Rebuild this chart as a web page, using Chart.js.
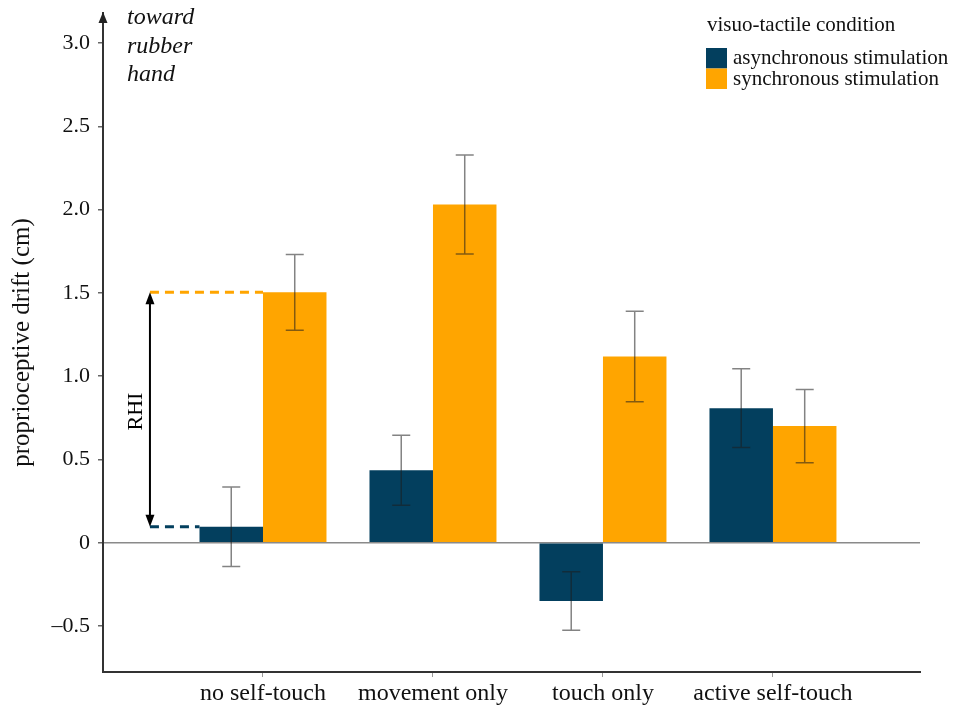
<!DOCTYPE html>
<html>
<head>
<meta charset="utf-8">
<script src="https://cdn.jsdelivr.net/npm/chart.js@4/dist/chart.umd.min.js"></script>
<style>
  html, body { margin: 0; padding: 0; background: #fff; }
  #wrap { width: 953px; height: 709px; }
</style>
</head>
<body>
<div id="wrap"><canvas id="driftChart" width="953" height="709"></canvas></div>
<script>
// -----------------------------
// Data
// -----------------------------
const categories = ["no self-touch", "movement only", "touch only", "active self-touch"];
const seriesNames = ["asynchronous stimulation", "synchronous stimulation"];
const asyncMeans = [0.096, 0.435, -0.35, 0.808];
const asyncErr = [0.238, 0.21, 0.176, 0.236];
const syncMeans = [1.503, 2.03, 1.118, 0.70];
const syncErr = [0.227, 0.297, 0.271, 0.22];
const yTicks = [-0.5, 0, 0.5, 1.0, 1.5, 2.0, 2.5, 3.0];

const DARK = "#033f5e";
const ORANGE = "#ffa500";
const SERIF = "'Liberation Serif', 'Times New Roman', serif";

Chart.defaults.font.family = SERIF;
Chart.defaults.color = "#111";

// -----------------------------
// Error bars, annotations, legend
// -----------------------------
const errorBars = {
  id: "errorBars",
  afterDatasetsDraw(chart) {
    const ctx = chart.ctx;
    const y = chart.scales.y;
    const sets = [[asyncMeans, asyncErr], [syncMeans, syncErr]];
    ctx.save();
    ctx.strokeStyle = "rgba(30,30,30,0.55)";
    ctx.lineWidth = 1.5;
    sets.forEach((s, d) => {
      chart.getDatasetMeta(d).data.forEach((bar, i) => {
        const top = y.getPixelForValue(s[0][i] + s[1][i]);
        const bot = y.getPixelForValue(s[0][i] - s[1][i]);
        ctx.beginPath();
        ctx.moveTo(bar.x, top); ctx.lineTo(bar.x, bot);
        ctx.moveTo(bar.x - 9, top); ctx.lineTo(bar.x + 9, top);
        ctx.moveTo(bar.x - 9, bot); ctx.lineTo(bar.x + 9, bot);
        ctx.stroke();
      });
    });
    ctx.restore();
  }
};

const rhiX = 0.335; // x position of RHI arrow, in axis units

const annotations = {
  id: "annotations",
  afterDraw(chart) {
    const ctx = chart.ctx;
    const area = chart.chartArea;
    const xs = chart.scales.x, ys = chart.scales.y;
    ctx.save();

    // arrow head on top of y axis
    ctx.fillStyle = "#222";
    ctx.beginPath();
    ctx.moveTo(area.left, area.top - 1);
    ctx.lineTo(area.left - 4.5, area.top + 10);
    ctx.lineTo(area.left + 4.5, area.top + 10);
    ctx.closePath();
    ctx.fill();

    // "toward rubber hand"
    ctx.font = "italic 24px " + SERIF;
    ctx.fillStyle = "#111";
    ctx.textAlign = "left";
    ctx.textBaseline = "middle";
    ["toward", "rubber", "hand"].forEach((w, i) => ctx.fillText(w, 127, 18 + i * 28.5));

    // RHI difference marker
    const ax = xs.getPixelForValue(rhiX);
    const syncBar = chart.getDatasetMeta(1).data[0];
    const asyncBar = chart.getDatasetMeta(0).data[0];
    const yHi = ys.getPixelForValue(syncMeans[0]);
    const yLo = ys.getPixelForValue(asyncMeans[0]);
    ctx.lineWidth = 3;
    ctx.setLineDash([9, 6]);
    ctx.strokeStyle = ORANGE;
    ctx.beginPath(); ctx.moveTo(ax, yHi); ctx.lineTo(syncBar.x - syncBar.width / 2, yHi); ctx.stroke();
    ctx.strokeStyle = DARK;
    ctx.beginPath(); ctx.moveTo(ax, yLo); ctx.lineTo(asyncBar.x - asyncBar.width / 2, yLo); ctx.stroke();
    ctx.setLineDash([]);

    ctx.strokeStyle = "#000";
    ctx.fillStyle = "#000";
    ctx.lineWidth = 2;
    ctx.beginPath(); ctx.moveTo(ax, yHi + 8); ctx.lineTo(ax, yLo - 8); ctx.stroke();
    ctx.beginPath();
    ctx.moveTo(ax, yHi); ctx.lineTo(ax - 4.5, yHi + 12); ctx.lineTo(ax + 4.5, yHi + 12); ctx.closePath(); ctx.fill();
    ctx.beginPath();
    ctx.moveTo(ax, yLo); ctx.lineTo(ax - 4.5, yLo - 12); ctx.lineTo(ax + 4.5, yLo - 12); ctx.closePath(); ctx.fill();

    ctx.save();
    ctx.translate(ax - 14, (yHi + yLo) / 2 + 2);
    ctx.rotate(-Math.PI / 2);
    ctx.font = "22px " + SERIF;
    ctx.textAlign = "center";
    ctx.textBaseline = "middle";
    ctx.fillText("RHI", 0, 0);
    ctx.restore();

    // legend
    ctx.font = "21px " + SERIF;
    ctx.fillStyle = "#111";
    ctx.textAlign = "left";
    ctx.textBaseline = "middle";
    ctx.fillText("visuo-tactile condition", 707, 25);
    chart.data.datasets.forEach((ds, i) => {
      ctx.fillStyle = ds.backgroundColor;
      ctx.fillRect(706, 48 + i * 20.5, 21, 20.5);
      ctx.fillStyle = "#111";
      ctx.fillText(ds.label, 733, 58 + i * 21);
    });
    ctx.restore();
  }
};

// -----------------------------
// Chart
// -----------------------------
const ctx = document.getElementById("driftChart").getContext("2d");

new Chart(ctx, {
  type: "bar",
  data: {
    datasets: [
      {
        label: seriesNames[0],
        data: asyncMeans.map((v, i) => ({ x: i + 1, y: v })),
        backgroundColor: DARK
      },
      {
        label: seriesNames[1],
        data: syncMeans.map((v, i) => ({ x: i + 1, y: v })),
        backgroundColor: ORANGE
      }
    ]
  },
  options: {
    responsive: false,
    animation: false,
    barPercentage: 1,
    categoryPercentage: 0.747,
    layout: { padding: { top: 13, right: 33, left: 0, bottom: 0 } },
    plugins: {
      legend: { display: false },
      tooltip: { enabled: false }
    },
    scales: {
      x: {
        type: "linear",
        offset: false,
        min: 0.0588,
        max: 4.865,
        afterBuildTicks: scale => { scale.ticks = categories.map((c, i) => ({ value: i + 1 })); },
        afterFit: scale => {
          scale.height = 37;
          scale.paddingLeft = 0;
          scale.paddingRight = 0;
        },
        border: { color: "#333", width: 2 },
        grid: { offset: false, drawOnChartArea: false, tickLength: 5, tickColor: "#999" },
        ticks: {
          callback: v => categories[v - 1],
          font: { size: 24 },
          color: "#111",
          padding: 2,
          maxRotation: 0,
          autoSkip: false
        }
      },
      y: {
        min: -0.776,
        max: 3.18,
        afterBuildTicks: scale => { scale.ticks = yTicks.map(v => ({ value: v })); },
        afterFit: scale => {
          scale.width = 103;
          scale.paddingTop = 0;
          scale.paddingBottom = 0;
        },
        border: { color: "#333", width: 2 },
        grid: {
          color: c => (c.tick && c.tick.value === 0 ? "#8a8a8a" : "rgba(0,0,0,0)"),
          tickColor: "#666",
          tickLength: 5,
          lineWidth: 1.5
        },
        ticks: {
          callback: v => (v === 0 ? "0" : v < 0 ? "\u2013" + Math.abs(v).toFixed(1) : v.toFixed(1)),
          font: { size: 22 },
          color: "#111",
          padding: 8
        },
        title: {
          display: true,
          text: "proprioceptive drift (cm)",
          font: { size: 25 },
          color: "#111",
          padding: { top: 7, bottom: 0 }
        }
      }
    }
  },
  plugins: [errorBars, annotations]
});
</script>
</body>
</html>
